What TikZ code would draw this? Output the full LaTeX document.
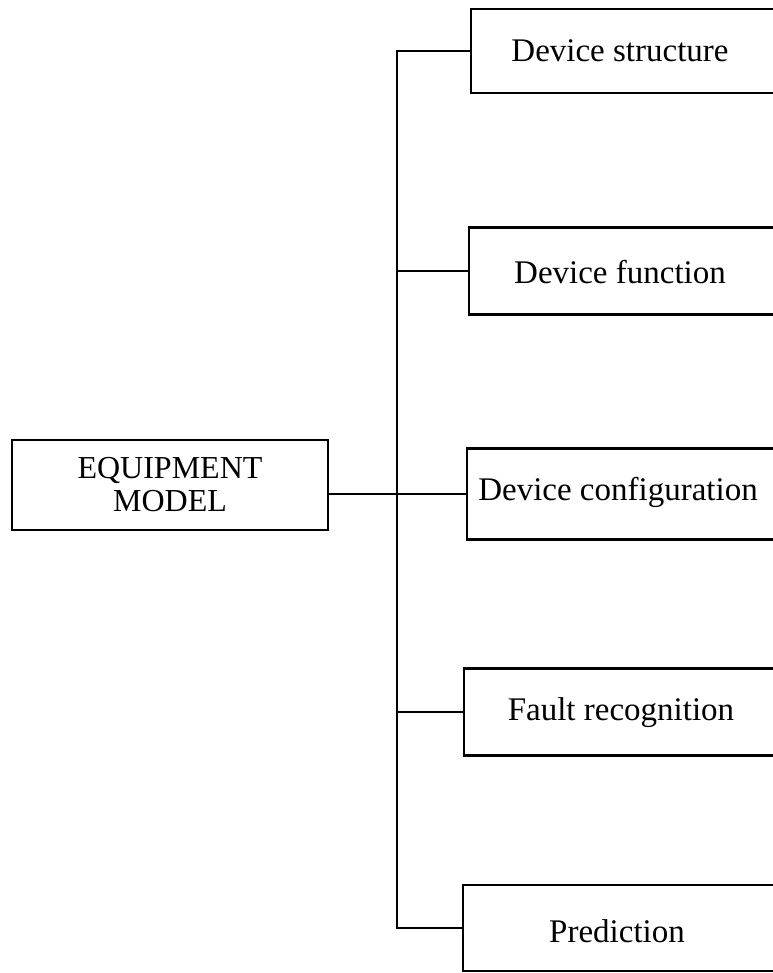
\documentclass[tikz,border=0pt]{standalone}
\usepackage{fontspec}
\setmainfont{Liberation Serif}
\begin{document}
\begin{tikzpicture}[x=1pt,y=1pt,
  box/.style={draw,line width=2.2pt,rectangle,anchor=west,minimum width=340pt,inner sep=0pt},
  lbl/.style={font=\fontsize{33}{36}\selectfont,inner sep=0pt},
  conn/.style={line width=2.2pt}]
\useasboundingbox (0,0) rectangle (772,-973);
% boxes (right side extends past the picture edge)
\node[box,minimum height=84pt] (ds) at (470,-51) {};
\node[box,minimum height=87pt] (df) at (468,-271) {};
\node[box,minimum height=91pt] (dc) at (466,-494) {};
\node[box,minimum height=87pt] (fr) at (463,-712) {};
\node[box,minimum height=86pt] (pr) at (462,-928) {};
\node[lbl] (tds) at (620,-51) {Device structure};
\node[lbl] (tdf) at (620,-272) {Device function};
\node[lbl] (tdc) at (618,-492) {Device configuration};
\node[lbl] (tfr) at (621,-713) {Fault recognition};
\node[lbl] (tpr) at (617,-931) {Prediction};
% equipment model
\node[draw,line width=2.2pt,minimum width=316pt,minimum height=90pt,inner sep=0pt,
      align=center,font=\fontsize{32}{33}\selectfont] (em) at (170,-485) {EQUIPMENT\\MODEL};
% connectors
\coordinate (bus) at (397,0);
\draw[conn] (ds.west) -| (bus |- pr.west) -- (pr.west);
\draw[conn] (bus |- df.west) -- (df.west);
\draw[conn] (bus |- fr.west) -- (fr.west);
\draw[conn] (em.east |- dc.west) -- (dc.west);
\end{tikzpicture}
\end{document}
